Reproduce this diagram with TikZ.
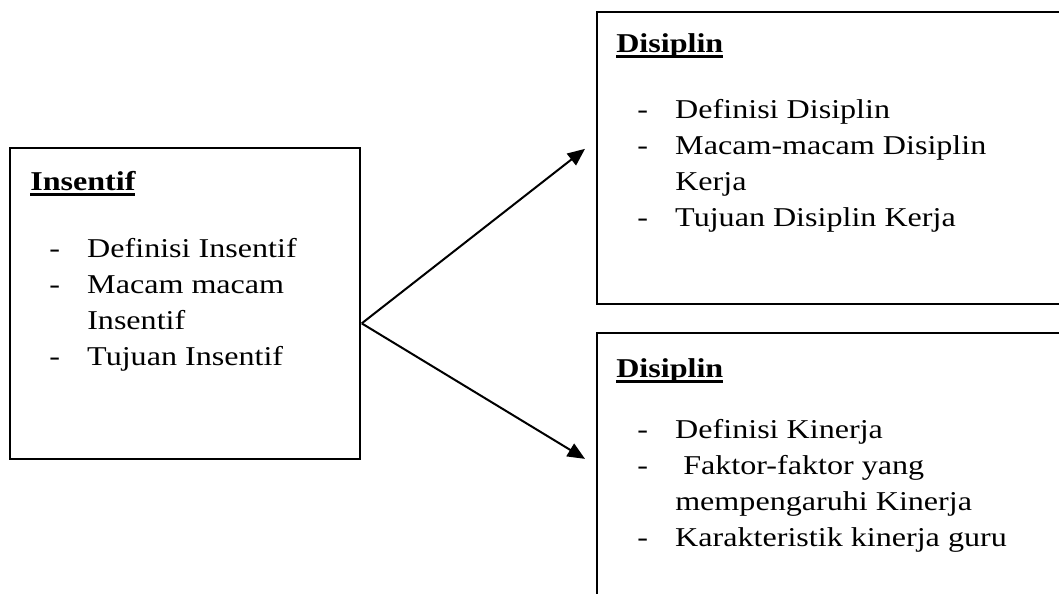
\documentclass[tikz,border=0pt]{standalone}
\usepackage{fontspec}
\setmainfont{Liberation Serif}[FakeStretch=1.18]
\usetikzlibrary{arrows.meta, positioning, calc}
\newcommand{\headline}[1]{\setbox0\hbox{\bfseries #1}\rlap{\rule[-4.6pt]{\wd0}{2.2pt}}\box0}
\newcommand{\itm}[1]{\makebox[28.5pt][l]{-}#1}
\newcommand{\cont}[1]{\hspace*{28.5pt}#1}
\tikzset{
  panel/.style = {rectangle, draw=black, line width=1.3pt, anchor=north west, inner sep=0pt},
  ttl/.style   = {anchor=base west, inner sep=0pt, font=\fontsize{20.4}{27}\selectfont},
  lst/.style   = {anchor=base west, inner sep=0pt, align=left, font=\fontsize{20.4}{27}\selectfont},
  flow/.style  = {-{Triangle[length=13pt, width=11pt]}, line width=1.5pt},
}
\begin{document}
\begin{tikzpicture}[x=0.75pt, y=-0.75pt]
	\useasboundingbox (0,0) rectangle (1059,593);
	\clip (0,0) rectangle (1059,593);
	\node[panel, minimum width=262.5pt, minimum height=233.25pt] (insentif) at (9,147) {};
	\node[panel, minimum width=355.5pt, minimum height=219pt]    (disiplin) at (596,11) {};
	\node[panel, minimum width=355.5pt, minimum height=208.5pt]  (kinerja)  at (596,332) {};
	\node[ttl] (insentifttl) at ($(insentif.north west)+(21,43)$) {\headline{Insentif}};
	\node[ttl] (disiplinttl) at ($(disiplin.north west)+(20,41)$) {\headline{Disiplin}};
	\node[ttl] (kinerjattl)  at ($(kinerja.north west)+(20,45)$)  {\headline{Disiplin}};
	\node[lst] (insentiflst) at ($(insentif.north west)+(40,218)$) {\itm{Definisi Insentif}\\ \itm{Macam macam}\\ \cont{Insentif}\\ \itm{Tujuan Insentif}};
	\node[lst] (disiplinlst) at ($(disiplin.north west)+(41,215)$) {\itm{Definisi Disiplin}\\ \itm{Macam-macam Disiplin}\\ \cont{Kerja}\\ \itm{Tujuan Disiplin Kerja}};
	\node[lst] (kinerjalst)  at ($(kinerja.north west)+(41,214)$)  {\itm{Definisi Kinerja}\\ \itm{\ Faktor-faktor yang}\\ \cont{mempengaruhi Kinerja}\\ \itm{Karakteristik kinerja guru}};
	\coordinate (fork)    at ($(insentif.east)+(1,20)$);
	\coordinate (tipdis)  at ($(disiplin.west)+(-11,-9)$);
	\coordinate (tipkin)  at ($(kinerja.west)+(-11,-13)$);
	\foreach \b in {tipdis, tipkin}{\draw[flow] (fork) -- (\b);}
\end{tikzpicture}
\end{document}
